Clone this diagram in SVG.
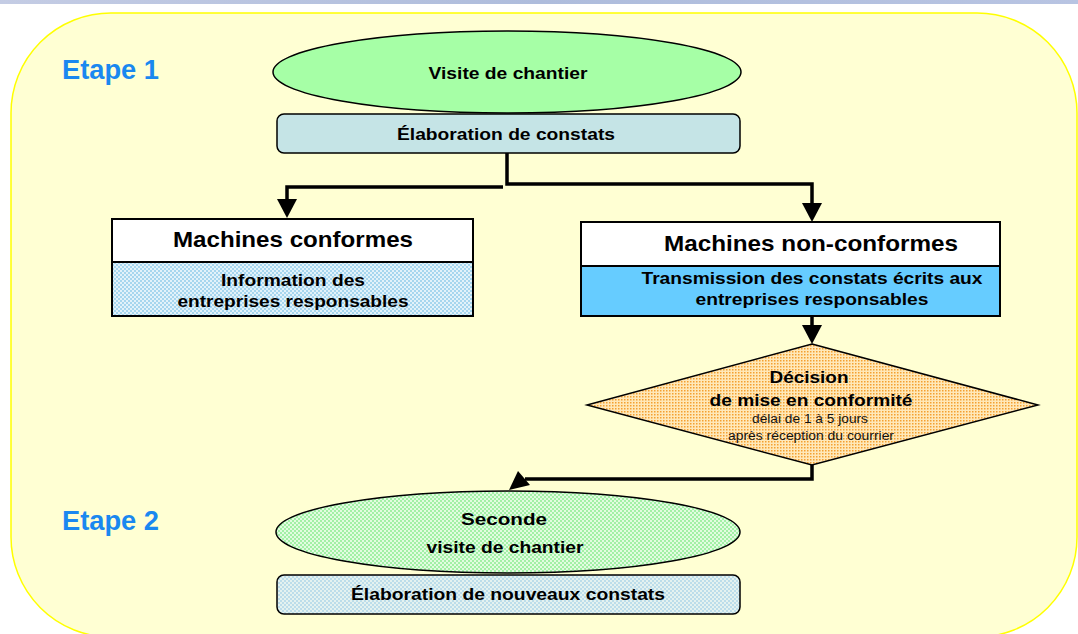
<svg xmlns="http://www.w3.org/2000/svg" width="1078" height="634" viewBox="0 0 1078 634">
<defs>
<style>
.t{font-family:"Liberation Sans",Arial,sans-serif;font-weight:bold;fill:#000;text-anchor:middle}
.s{font-family:"Liberation Sans",Arial,sans-serif;fill:#111;text-anchor:middle;font-size:12.5px}
.et{font-family:"Liberation Sans",Arial,sans-serif;font-weight:bold;fill:#1A88F0;font-size:27px}
.ln{fill:none;stroke:#000;stroke-width:3.5}
.ah{fill:#000}
.bx{stroke:#000;stroke-width:2}
</style>
<linearGradient id="band" x1="0" y1="0" x2="1" y2="0">
<stop offset="0" stop-color="#C4CCE4"/><stop offset="0.5" stop-color="#AEBCDC"/><stop offset="1" stop-color="#B8C4E2"/>
</linearGradient>
<pattern id="pBlue" width="4" height="4" patternUnits="userSpaceOnUse">
<rect width="4" height="4" fill="#E2F2FA"/>
<rect width="2" height="2" fill="#A6D6EE"/><rect x="2" y="2" width="2" height="2" fill="#A6D6EE"/>
</pattern>
<pattern id="pBlue2" width="4" height="4" patternUnits="userSpaceOnUse">
<rect width="4" height="4" fill="#E4F2F0"/>
<rect width="2" height="2" fill="#BCDDEA"/><rect x="2" y="2" width="2" height="2" fill="#BCDDEA"/>
</pattern>
<pattern id="pGreen" width="4" height="4" patternUnits="userSpaceOnUse">
<rect width="4" height="4" fill="#E2FCE0"/>
<rect width="2" height="2" fill="#A2F0A6"/><rect x="2" y="2" width="2" height="2" fill="#A2F0A6"/>
</pattern>
<pattern id="pOrange" width="3" height="3" patternUnits="userSpaceOnUse">
<rect width="3" height="3" fill="#FFE8B8"/>
<rect width="1.5" height="1.5" fill="#F4A030"/>
</pattern>
</defs>
<rect width="1078" height="634" fill="#FFFFFF"/>
<rect width="1078" height="4" fill="url(#band)"/>
<rect x="11" y="13" width="1066" height="624" rx="100" ry="100" fill="#FFFFD3" stroke="#FFFF00" stroke-width="1.5"/>

<text class="et" x="62" y="79" textLength="97" lengthAdjust="spacingAndGlyphs">Etape 1</text>
<text class="et" x="62" y="530" textLength="97" lengthAdjust="spacingAndGlyphs">Etape 2</text>

<g id="connectors">
<polyline class="ln" points="507,153 507,184 812,184 812,205"/>
<polygon class="ah" points="802,203 822,203 812,222"/>
<polyline class="ln" points="503,187 287,187 287,202"/>
<polygon class="ah" points="277,199 297,199 287,218"/>
<line class="ln" x1="812" y1="316" x2="812" y2="328"/>
<polygon class="ah" points="802,325 822,325 812,344"/>
<polyline class="ln" points="812,465 812,479 525,479"/>
<polygon class="ah" points="509,490 518,471 530,485"/>
</g>

<g id="visite">
<ellipse cx="507" cy="72" rx="234" ry="41" fill="#A6FFA6" stroke="#000" stroke-width="1.5"/>
<text class="t" x="508" y="79" font-size="17" textLength="159" lengthAdjust="spacingAndGlyphs">Visite de chantier</text>
</g>

<g id="elaboration">
<rect x="277" y="114" width="463" height="39" rx="7" fill="#C5E4E6" stroke="#000" stroke-width="1.5"/>
<text class="t" x="506" y="140" font-size="17" textLength="218" lengthAdjust="spacingAndGlyphs">Élaboration de constats</text>
</g>

<g id="conformes">
<rect class="bx" x="112" y="219" width="361" height="43" fill="#FFFFFF"/>
<rect class="bx" x="112" y="262" width="361" height="54" fill="url(#pBlue)"/>
<text class="t" x="293" y="247" font-size="22" textLength="240" lengthAdjust="spacingAndGlyphs">Machines conformes</text>
<text class="t" x="293" y="286" font-size="17" textLength="144" lengthAdjust="spacingAndGlyphs">Information des</text>
<text class="t" x="293" y="307" font-size="17" textLength="231" lengthAdjust="spacingAndGlyphs">entreprises responsables</text>
</g>

<g id="nonconformes">
<rect class="bx" x="581" y="222" width="419" height="44" fill="#FFFFFF"/>
<rect class="bx" x="581" y="266" width="419" height="50" fill="#66CCFF"/>
<text class="t" x="811" y="251" font-size="22" textLength="294" lengthAdjust="spacingAndGlyphs">Machines non-conformes</text>
<text class="t" x="812" y="284" font-size="17" textLength="341" lengthAdjust="spacingAndGlyphs">Transmission des constats écrits aux</text>
<text class="t" x="812" y="305" font-size="17" textLength="233" lengthAdjust="spacingAndGlyphs">entreprises responsables</text>
</g>

<g id="decision">
<polygon points="812,344 1038,405 812,465 587,405" fill="url(#pOrange)" stroke="#000" stroke-width="1.5"/>
<text class="t" x="809" y="383" font-size="17" textLength="79" lengthAdjust="spacingAndGlyphs">Décision</text>
<text class="t" x="811" y="406" font-size="17" textLength="203" lengthAdjust="spacingAndGlyphs">de mise en conformité</text>
<text class="s" x="810" y="423" textLength="116" lengthAdjust="spacingAndGlyphs">délai de 1 à 5 jours</text>
<text class="s" x="811" y="440" textLength="166" lengthAdjust="spacingAndGlyphs">après réception du courrier</text>
</g>

<g id="seconde">
<ellipse cx="508" cy="532" rx="232" ry="41" fill="url(#pGreen)" stroke="#000" stroke-width="1.5"/>
<text class="t" x="504" y="525" font-size="17" textLength="86" lengthAdjust="spacingAndGlyphs">Seconde</text>
<text class="t" x="505" y="553" font-size="17" textLength="157" lengthAdjust="spacingAndGlyphs">visite de chantier</text>
</g>

<g id="nouveaux">
<rect x="277" y="575" width="463" height="39" rx="7" fill="url(#pBlue2)" stroke="#000" stroke-width="1.5"/>
<text class="t" x="508" y="600" font-size="17" textLength="314" lengthAdjust="spacingAndGlyphs">Élaboration de nouveaux constats</text>
</g>
</svg>
